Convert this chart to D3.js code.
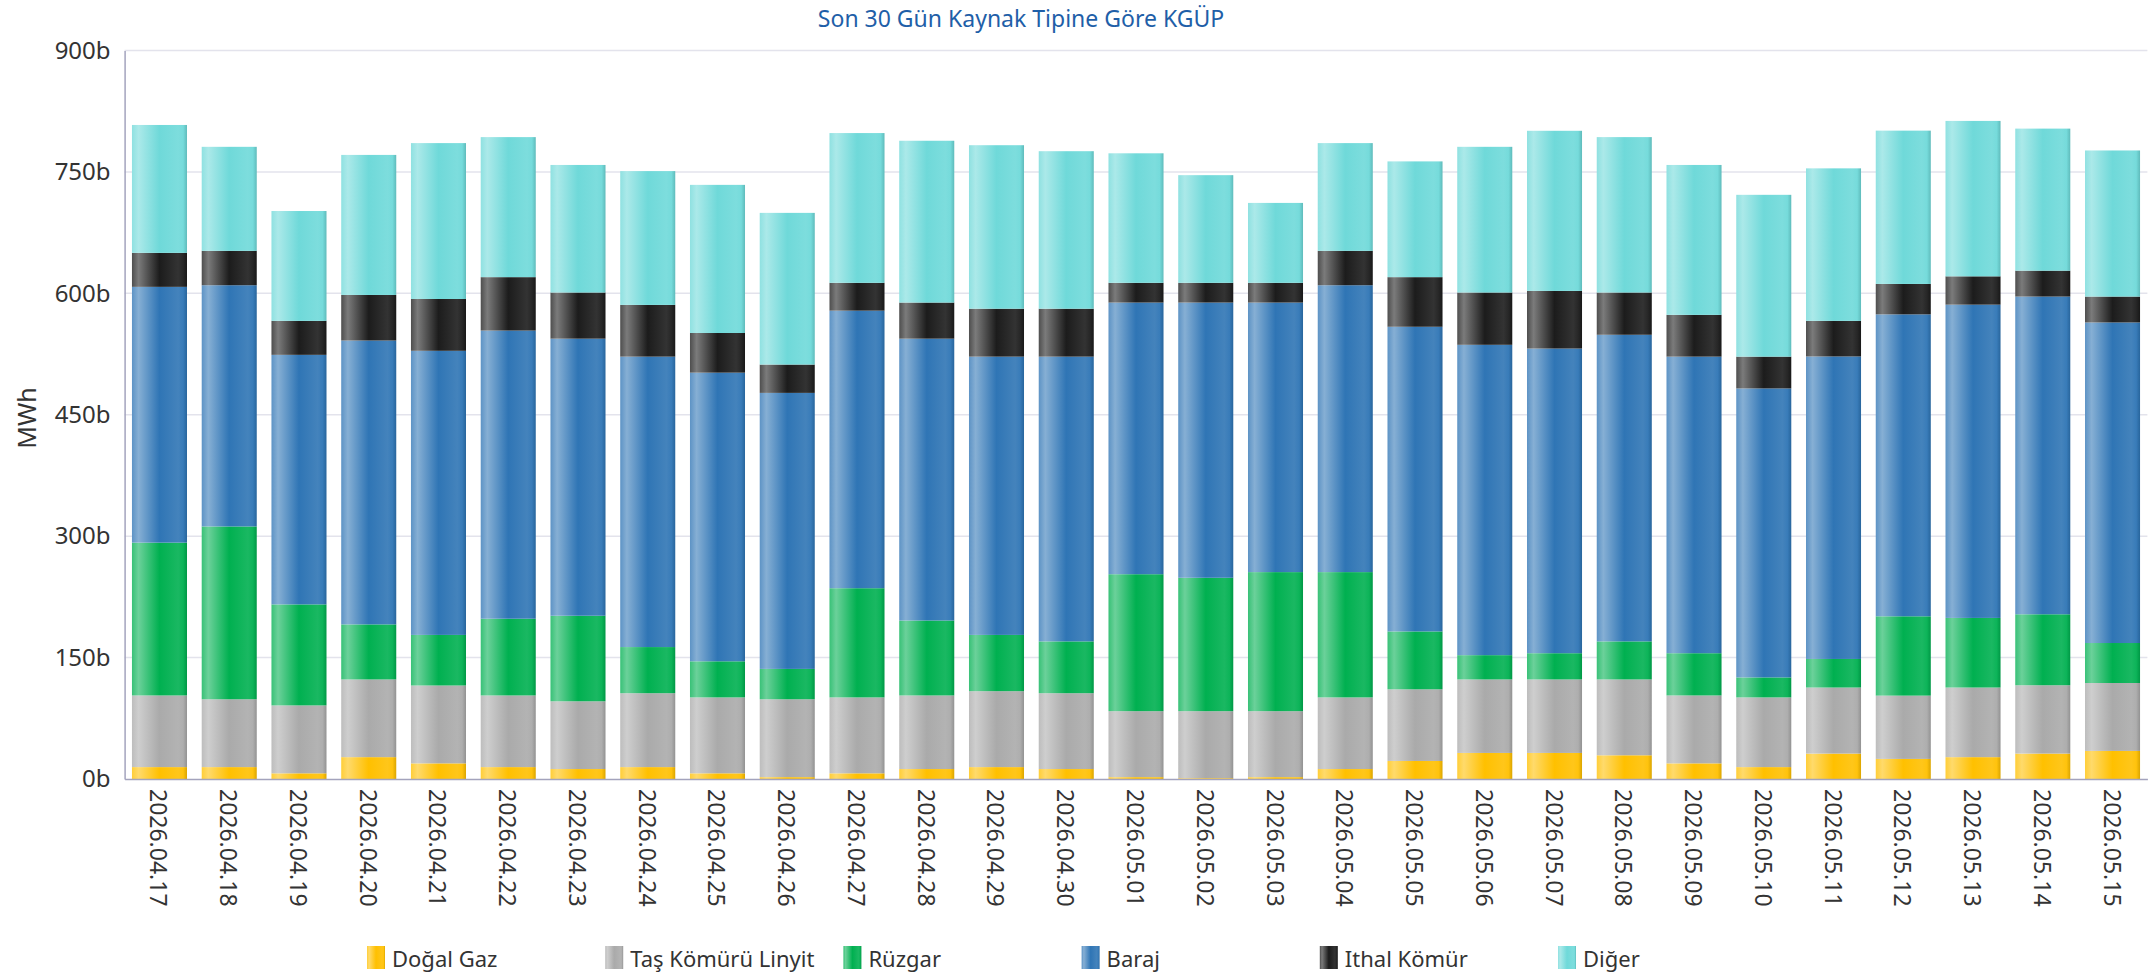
<!DOCTYPE html>
<html lang="tr">
<head>
<meta charset="utf-8">
<title>Son 30 Gün Kaynak Tipine Göre KGÜP</title>
<script src="https://cdn.jsdelivr.net/npm/d3@7"></script>
<style>
  html, body { margin: 0; padding: 0; background: #ffffff; }
  svg { display: block; font-family: "Noto Sans", "Open Sans", sans-serif; }
</style>
</head>
<body>
<svg id="chart" width="2150" height="975"></svg>
<script>
// Daily generation by source type, in thousands of MWh ("b")
const dates = [
  "2026.04.17", "2026.04.18", "2026.04.19", "2026.04.20", "2026.04.21", "2026.04.22",
  "2026.04.23", "2026.04.24", "2026.04.25", "2026.04.26", "2026.04.27", "2026.04.28",
  "2026.04.29", "2026.04.30", "2026.05.01", "2026.05.02", "2026.05.03", "2026.05.04",
  "2026.05.05", "2026.05.06", "2026.05.07", "2026.05.08", "2026.05.09", "2026.05.10",
  "2026.05.11", "2026.05.12", "2026.05.13", "2026.05.14", "2026.05.15"
];
const dogalGaz   = [14.7, 14.7, 7.0, 27.0, 19.3, 14.7, 12.3, 14.7, 7.0, 2.3, 7.0, 12.3, 14.7, 12.3, 2.3, 1.0, 2.3, 12.3, 22.3, 32.2, 32.2, 29.3, 19.3, 14.7, 31.4, 24.8, 27.0, 31.4, 34.7];
const tasKomuru  = [88.5, 83.8, 83.9, 96.0, 96.2, 88.5, 83.7, 91.3, 93.8, 96.2, 93.8, 90.9, 93.8, 93.7, 81.5, 82.8, 81.5, 88.5, 88.5, 90.8, 90.8, 93.7, 83.9, 86.1, 81.6, 78.2, 86.0, 84.4, 83.9];
const ruzgar     = [188.8, 213.5, 124.8, 68.0, 62.5, 94.8, 105.7, 57.0, 44.6, 37.5, 134.9, 92.6, 69.5, 64.0, 169.2, 164.8, 171.8, 154.8, 71.5, 30.0, 32.4, 47.0, 52.2, 24.7, 35.3, 98.0, 86.0, 87.7, 49.4];
const baraj      = [316.0, 298.0, 308.3, 350.7, 351.0, 356.0, 342.3, 358.8, 356.6, 341.0, 342.9, 348.2, 343.8, 351.8, 335.6, 340.0, 333.0, 354.4, 376.4, 383.4, 376.4, 378.8, 366.4, 357.0, 373.7, 373.0, 387.0, 392.5, 396.0];
const ithalKomur = [42.0, 42.5, 42.0, 56.3, 64.0, 66.0, 57.0, 63.9, 49.0, 35.0, 34.4, 44.6, 59.2, 59.2, 24.4, 24.4, 24.4, 42.5, 61.3, 64.6, 71.2, 52.2, 51.6, 39.3, 44.0, 37.6, 35.0, 32.0, 32.0];
const diger      = [158.0, 128.5, 135.7, 173.0, 192.6, 173.0, 157.6, 165.3, 183.0, 187.4, 185.0, 199.9, 202.0, 194.6, 160.0, 133.0, 98.7, 133.1, 143.0, 180.0, 197.8, 192.0, 185.2, 199.9, 188.4, 189.4, 192.0, 175.5, 180.5];

const seriesNames  = ["Doğal Gaz", "Taş Kömürü Linyit", "Rüzgar", "Baraj", "Ithal Kömür", "Diğer"];
const seriesValues = [dogalGaz, tasKomuru, ruzgar, baraj, ithalKomur, diger];
const seriesColors = ["#ffc000", "#aaaaaa", "#00b050", "#2f75b5", "#1c1c1c", "#6fd9d9"];
const yTicks = [0, 150, 300, 450, 600, 750, 900];

// Row table for d3.stack
const rows = dates.map((d, i) => {
  const r = { date: d };
  seriesNames.forEach((name, k) => { r[name] = seriesValues[k][i]; });
  return r;
});

const svg = d3.select("#chart");
const plot = { left: 124.6, right: 2147.4, top: 50.5, bottom: 779 };

const x = d3.scaleBand()
  .domain(dates)
  .range([plot.left, plot.right])
  .paddingInner(0.211)
  .paddingOuter(0.1055);

const y = d3.scaleLinear()
  .domain([0, 900])
  .range([plot.bottom, plot.top]);

// Horizontal gradients giving the bars their cylinder-like shading
const defs = svg.append("defs");
const mixWhite = (c, t) => d3.interpolateRgb(c, "#ffffff")(t);
const mixBlack = (c, t) => d3.interpolateRgb(c, "#000000")(t);
seriesColors.forEach((c, k) => {
  const g = defs.append("linearGradient")
    .attr("id", "grad" + k)
    .attr("x1", 0).attr("x2", 1).attr("y1", 0).attr("y2", 0);
  const stops = [
    [0, mixWhite(c, 0.22)],
    [0.12, mixWhite(c, 0.42)],
    [0.5, c],
    [0.84, mixWhite(c, 0.1)],
    [0.93, mixWhite(c, 0.05)],
    [1, mixBlack(c, 0.14)]
  ];
  stops.forEach(([o, col]) => g.append("stop").attr("offset", o).attr("stop-color", col));
});

// Gridlines
svg.append("g")
  .selectAll("line")
  .data(yTicks.filter(v => v > 0))
  .join("line")
  .attr("x1", plot.left)
  .attr("x2", plot.right)
  .attr("y1", d => y(d))
  .attr("y2", d => y(d))
  .attr("stroke", "#e3e3ec")
  .attr("stroke-width", 1.5);

// Stacked bars
const stacked = d3.stack().keys(seriesNames)(rows);
svg.append("g")
  .selectAll("g")
  .data(stacked)
  .join("g")
  .attr("fill", (d, k) => `url(#grad${k})`)
  .selectAll("rect")
  .data(d => d)
  .join("rect")
  .attr("x", d => x(d.data.date))
  .attr("width", x.bandwidth())
  .attr("y", d => y(d[1]))
  .attr("height", d => Math.max(0, y(d[0]) - y(d[1])));

// Y axis
const yAxis = svg.append("g")
  .attr("transform", `translate(${plot.left},0)`)
  .call(d3.axisLeft(y).tickValues(yTicks).tickFormat(d => d + "b").tickSize(0).tickPadding(14));
yAxis.select(".domain").attr("stroke", "#a3a3bd").attr("stroke-width", 1.5);
yAxis.selectAll("text")
  .attr("fill", "#333333")
  .style("font-size", "24px")
  .style("font-family", "'Noto Sans', sans-serif");

// X axis
const xAxis = svg.append("g")
  .attr("transform", `translate(0,${plot.bottom})`)
  .call(d3.axisBottom(x).tickSize(0).tickPadding(0));
xAxis.select(".domain").attr("stroke", "#a3a3bd").attr("stroke-width", 1.5);
xAxis.selectAll("text")
  .attr("fill", "#333333")
  .style("font-size", "23px")
  .style("font-family", "'Noto Sans', sans-serif")
  .attr("text-anchor", "start")
  .attr("dy", null)
  .attr("y", 0)
  .attr("dominant-baseline", "central")
  .attr("transform", "translate(0,10) rotate(90)");

// Axis title
svg.append("text")
  .attr("transform", `translate(26,418) rotate(-90)`)
  .attr("text-anchor", "middle")
  .attr("dominant-baseline", "central")
  .attr("fill", "#333333")
  .style("font-size", "25px")
  .text("MWh");

// Chart title
svg.append("text")
  .attr("x", 1021)
  .attr("y", 27)
  .attr("text-anchor", "middle")
  .attr("fill", "#1f5fa8")
  .style("font-size", "23px")
  .text("Son 30 Gün Kaynak Tipine Göre KGÜP");

// Legend
const legendX = d3.scaleLinear().domain([0, seriesNames.length - 1]).range([367, 1558]);
const legend = svg.append("g")
  .selectAll("g")
  .data(seriesNames)
  .join("g")
  .attr("transform", (d, k) => `translate(${legendX(k)},946)`);
legend.append("rect")
  .attr("width", 18)
  .attr("height", 23)
  .attr("fill", (d, k) => `url(#grad${k})`);
legend.append("text")
  .attr("x", 25)
  .attr("y", 11.5)
  .attr("dominant-baseline", "central")
  .attr("fill", "#333333")
  .style("font-size", "22px")
  .text(d => d);
</script>
</body>
</html>
